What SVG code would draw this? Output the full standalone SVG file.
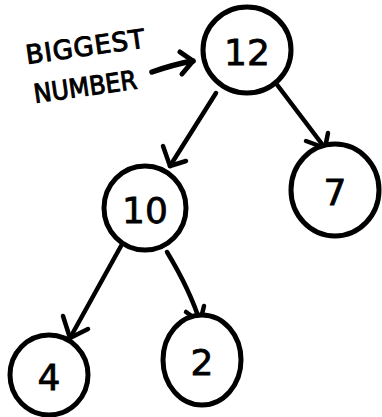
<svg xmlns="http://www.w3.org/2000/svg" width="382" height="417" viewBox="0 0 382 417">
<style>
.node{fill:#fff;stroke:#000;stroke-width:5}
.num{font-family:"DejaVu Sans","Liberation Sans",sans-serif;font-size:36px;fill:#000;text-anchor:middle;stroke:#000;stroke-width:0.8}
.lbl{font-family:"DejaVu Sans","Liberation Sans",sans-serif;font-size:26px;fill:#000;stroke:#000;stroke-width:1}
.edge{fill:none;stroke:#000;stroke-width:4.5;stroke-linecap:round;stroke-linejoin:round}
</style>
<rect width="382" height="417" fill="#fff"/>
<g id="connectors">
<path class="edge" d="M216,93 L170,166"/>
<path class="edge" d="M163,146 L170,166 L186,161"/>
<path class="edge" d="M275,82 L325,148"/>
<path class="edge" d="M306,141 L325,148 L328,133"/>
<path class="edge" d="M121,246 L70,338"/>
<path class="edge" d="M63,316 L70,338 L88,329"/>
<path class="edge" d="M167,252 Q190,290 200,322"/>
<path class="edge" d="M186,312 L200,322 L204,306"/>
<path class="edge" d="M152,72 Q175,64 193,61" style="stroke-width:5.5"/>
<path class="edge" d="M180,52 L193,61 L182,74" style="stroke-width:5"/>
</g>
<g id="label">
<text class="lbl" transform="translate(27,64) rotate(-8)" textLength="120" lengthAdjust="spacing">BIGGEST</text>
<text class="lbl" transform="translate(35,103) rotate(-8)" textLength="104" lengthAdjust="spacingAndGlyphs">NUMBER</text>
</g>
<g id="n12"><ellipse class="node" cx="247" cy="50" rx="44" ry="43"/><text class="num" x="247" y="65">12</text></g>
<g id="n10"><ellipse class="node" cx="145" cy="208" rx="41" ry="42"/><text class="num" x="145" y="223">10</text></g>
<g id="n7"><ellipse class="node" cx="335" cy="190" rx="44" ry="46"/><text class="num" x="335" y="205">7</text></g>
<g id="n4"><ellipse class="node" cx="49" cy="375" rx="39" ry="40"/><text class="num" x="49" y="390">4</text></g>
<g id="n2"><ellipse class="node" cx="202" cy="360" rx="39" ry="45"/><text class="num" x="202" y="375">2</text></g>
</svg>
